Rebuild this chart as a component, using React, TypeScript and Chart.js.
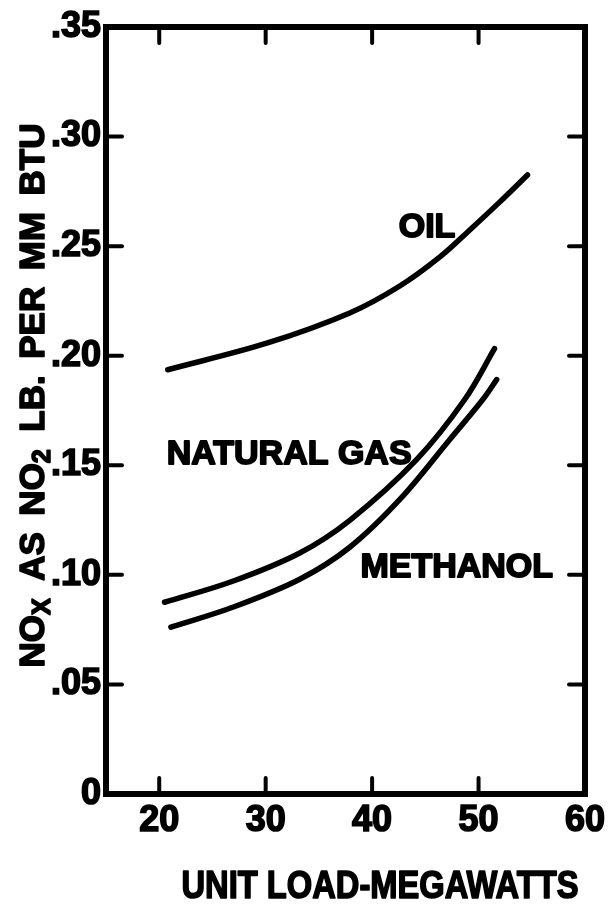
import React, { useEffect, useRef } from "react";
import { Chart, registerables } from "chart.js";

Chart.register(...registerables);

// ---- data ----
const X_TICKS = [20, 30, 40, 50, 60];
const X_TICK_LABELS = ["20", "30", "40", "50", "60"];
const Y_TICKS = [0, 0.05, 0.1, 0.15, 0.2, 0.25, 0.3, 0.35];
const Y_TICK_LABELS = ["0", ".05", ".10", ".15", ".20", ".25", ".30", ".35"];

const OIL_X = [20.8, 30.1, 37.9, 42.6, 46.4, 49.2, 52.0, 54.6];
const OIL_Y = [0.1936, 0.2057, 0.2195, 0.2318, 0.2452, 0.2575, 0.2702, 0.2825];

const GAS_X = [20.5, 26.9, 33.2, 37.9, 44.2, 48.7, 51.5];
const GAS_Y = [0.0875, 0.0971, 0.11, 0.1249, 0.1527, 0.18, 0.2032];

const METH_X = [21.1, 26.9, 33.2, 37.9, 42.6, 47.3, 50.4, 51.7];
const METH_Y = [0.0761, 0.0852, 0.098, 0.1126, 0.1344, 0.1618, 0.18, 0.1891];

const SERIES_NAMES = ["OIL", "NATURAL GAS", "METHANOL"];

const X_TITLE = "UNIT LOAD-MEGAWATTS";
// y title pieces: [text, isSubscript]
const Y_TITLE: [string, boolean][] = [
  ["NO", false],
  ["X", true],
  [" ", false],
  ["AS", false],
  [" ", false],
  ["NO", false],
  ["2", true],
  [" ", false],
  ["LB.", false],
  [" ", false],
  ["PER", false],
  [" ", false],
  ["MM", false],
  [" ", false],
  ["BTU", false],
];

const INK = "#000";
const FONT_FAMILY = '"Liberation Sans", Arial, sans-serif';

const zip = (xs: number[], ys: number[]) => xs.map((x, i) => ({ x, y: ys[i] }));

// label anchors in data units (left edge / cap-centre)
const ANNOTATIONS = [
  { text: SERIES_NAMES[0], x: 42.5, y: 0.2597 },
  { text: SERIES_NAMES[1], x: 20.7, y: 0.1563 },
  { text: SERIES_NAMES[2], x: 38.9, y: 0.1048 },
];

const paperPlugin = {
  id: "paperPlugin",
  afterDatasetsDraw(chart: any) {
    const { ctx, chartArea: a, scales } = chart;
    const xs = scales.x;
    const ys = scales.y;
    ctx.save();
    ctx.fillStyle = INK;
    ctx.strokeStyle = INK;

    // curve labels
    const fs = 34;
    ctx.font = `bold ${fs}px ${FONT_FAMILY}`;
    ctx.textAlign = "left";
    ctx.textBaseline = "alphabetic";
    ctx.lineWidth = 1.8;
    ctx.lineJoin = "round";
    ANNOTATIONS.forEach((an) => {
      const px = xs.getPixelForValue(an.x);
      const py = ys.getPixelForValue(an.y) + fs * 0.358;
      ctx.fillText(an.text, px, py);
      ctx.strokeText(an.text, px, py);
    });

    // frame
    ctx.lineWidth = 6;
    ctx.lineJoin = "miter";
    ctx.strokeRect(a.left, a.top, a.right - a.left, a.bottom - a.top);

    // inward tick marks
    ctx.lineWidth = 4;
    ctx.lineCap = "round";
    const tl = 16;
    const seg = (x1: number, y1: number, x2: number, y2: number) => {
      ctx.beginPath();
      ctx.moveTo(x1, y1);
      ctx.lineTo(x2, y2);
      ctx.stroke();
    };
    xs.ticks.forEach((t: any) => {
      if (t.value <= xs.min || t.value >= xs.max) return;
      const px = xs.getPixelForValue(t.value);
      seg(px, a.bottom, px, a.bottom - tl);
      seg(px, a.top, px, a.top + tl);
    });
    ys.ticks.forEach((t: any) => {
      if (t.value <= ys.min || t.value >= ys.max) return;
      const py = ys.getPixelForValue(t.value);
      seg(a.left, py, a.left + tl, py);
      seg(a.right, py, a.right - tl, py);
    });

    // x title
    const xfs = 38;
    ctx.font = `bold ${xfs}px ${FONT_FAMILY}`;
    ctx.textAlign = "center";
    ctx.lineJoin = "round";
    ctx.lineWidth = 1.6;
    const xw = ctx.measureText(X_TITLE).width;
    const targetW = 397;
    ctx.save();
    ctx.translate(a.right - 205, a.bottom + 104);
    ctx.scale(targetW / xw, 1);
    ctx.fillText(X_TITLE, 0, 0);
    ctx.strokeText(X_TITLE, 0, 0);
    ctx.restore();

    // y title (rotated, with subscripts)
    const yfs = 35;
    const subFs = 25;
    const mainFont = `bold ${yfs}px ${FONT_FAMILY}`;
    const subFont = `bold ${subFs}px ${FONT_FAMILY}`;
    let inked = 0;
    let gaps = 0;
    Y_TITLE.forEach(([t, sub]) => {
      if (t === " ") {
        gaps++;
        return;
      }
      ctx.font = sub ? subFont : mainFont;
      inked += ctx.measureText(t).width;
    });
    const totalLen = 542;
    const gap = (totalLen - inked) / gaps;
    ctx.save();
    ctx.translate(31, (a.top + a.bottom) / 2 - 14);
    ctx.rotate(-Math.PI / 2);
    ctx.textAlign = "left";
    ctx.lineWidth = 1.6;
    let cx = -totalLen / 2;
    const base = yfs * 0.358;
    Y_TITLE.forEach(([t, sub]) => {
      if (t === " ") {
        cx += gap;
        return;
      }
      ctx.font = sub ? subFont : mainFont;
      const dy = sub ? base + 6 : base;
      ctx.fillText(t, cx, dy);
      ctx.strokeText(t, cx, dy);
      cx += ctx.measureText(t).width + (sub ? 1 : 0);
    });
    ctx.restore();

    ctx.restore();
  },
};

export default function App() {
  const ref = useRef<HTMLCanvasElement | null>(null);

  useEffect(() => {
    if (!ref.current) return;
    const lineStyle = {
      showLine: true,
      borderColor: INK,
      backgroundColor: INK,
      borderWidth: 5.5,
      pointRadius: 0,
      tension: 0.35,
      borderCapStyle: "round" as const,
      borderJoinStyle: "round" as const,
      fill: false,
    };
    const tickFont = { family: FONT_FAMILY, weight: "bold" as const, size: 36 };
    const chart = new Chart(ref.current, {
      type: "scatter",
      data: {
        datasets: [
          { label: SERIES_NAMES[0], data: zip(OIL_X, OIL_Y), ...lineStyle },
          { label: SERIES_NAMES[1], data: zip(GAS_X, GAS_Y), ...lineStyle },
          { label: SERIES_NAMES[2], data: zip(METH_X, METH_Y), ...lineStyle },
        ],
      },
      options: {
        animation: false,
        responsive: true,
        maintainAspectRatio: false,
        layout: { padding: { left: 0, right: 28, top: 27, bottom: 0 } },
        plugins: {
          legend: { display: false },
          tooltip: { enabled: false },
          title: { display: false },
        },
        scales: {
          x: {
            type: "linear",
            min: 15,
            max: 60,
            grid: { display: false, drawTicks: false },
            border: { display: false },
            afterBuildTicks: (scale: any) => {
              scale.ticks = X_TICKS.map((v) => ({ value: v }));
            },
            afterFit: (scale: any) => {
              scale.height = 110;
            },
            ticks: {
              color: INK,
              padding: 5,
              maxRotation: 0,
              autoSkip: false,
              textStrokeColor: INK,
              textStrokeWidth: 1.6,
              font: tickFont,
              callback: (v: any) => {
                const i = X_TICKS.indexOf(Number(v));
                return i >= 0 ? X_TICK_LABELS[i] : "";
              },
            },
          },
          y: {
            type: "linear",
            min: 0,
            max: 0.35,
            grid: { display: false, drawTicks: false },
            border: { display: false },
            afterBuildTicks: (scale: any) => {
              scale.ticks = Y_TICKS.map((v) => ({ value: v }));
            },
            afterFit: (scale: any) => {
              scale.width = 106;
            },
            ticks: {
              color: INK,
              padding: 5,
              autoSkip: false,
              textStrokeColor: INK,
              textStrokeWidth: 1.6,
              font: tickFont,
              callback: (v: any) => {
                const i = Y_TICKS.findIndex((t) => Math.abs(t - Number(v)) < 1e-9);
                return i >= 0 ? Y_TICK_LABELS[i] : "";
              },
            },
          },
        },
      },
      plugins: [paperPlugin],
    });
    return () => chart.destroy();
  }, []);

  return (
    <div style={{ position: "fixed", left: 0, top: 0, width: 613, height: 904, background: "#fff" }}>
      <canvas ref={ref} />
    </div>
  );
}
